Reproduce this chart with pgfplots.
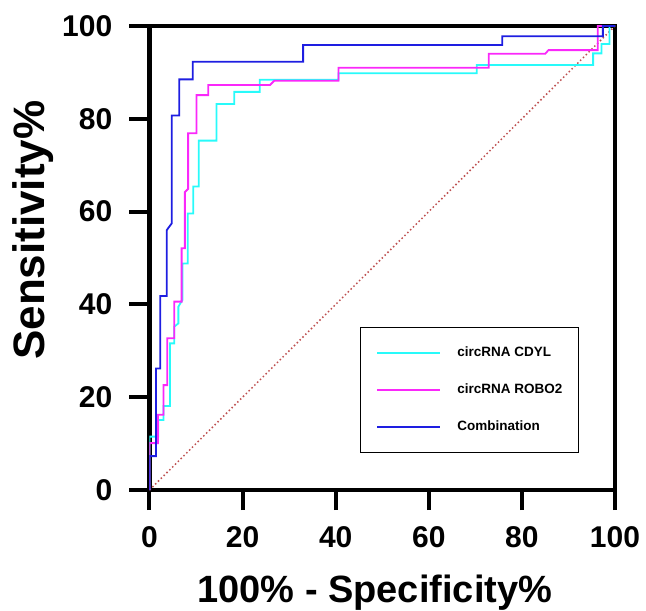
\documentclass[border=0pt]{standalone}
\usepackage{fontspec}
\setmainfont{Liberation Sans}
\usepackage{pgfplots}
\pgfplotsset{compat=1.18}
\usepackage{pgfplotstable}

\definecolor{cdyl}{RGB}{40,250,250}
\definecolor{robo}{RGB}{250,40,250}
\definecolor{comb}{RGB}{30,30,225}
\definecolor{diag}{RGB}{190,80,80}

% ROC curves: 100% - specificity, sensitivity
\pgfplotstableread{
x y
0 0
0 11.5
1.9 11.5
1.9 15.1
3.0 15.1
3.0 18.1
4.4 18.1
4.4 31.6
5.3 31.6
5.3 35.2
6.2 35.9
6.2 39.5
7.1 41.0
7.1 48.8
8.2 48.8
8.2 59.6
9.4 59.6
9.4 65.4
10.6 65.4
10.6 75.3
14.4 75.3
14.4 83.2
18.2 83.2
18.2 85.8
23.7 85.8
23.7 88.4
40.6 88.4
40.6 89.8
70.3 89.8
70.3 91.6
95.3 91.6
95.3 94.1
97.1 94.1
97.1 96.1
98.8 96.1
98.8 100
100 100
}\cdyltab

\pgfplotstableread{
x y
0 0
0 10.1
1.8 10.1
1.8 16.2
3.0 16.2
3.0 22.6
3.8 22.6
3.8 32.7
5.3 32.7
5.3 40.6
6.9 40.6
6.9 52.1
7.6 52.1
7.6 64.2
8.3 64.9
8.3 76.9
10.1 76.9
10.1 85.1
12.6 85.1
12.6 87.3
25.9 87.3
26.8 88.2
40.6 88.2
40.6 91.0
72.9 91.0
72.9 94.0
85.0 94.0
85.7 94.8
96.3 94.8
96.3 100
100 100
}\robotab

\pgfplotstableread{
x y
0 0
0 7.3
1.4 7.3
1.4 26.2
2.3 26.2
2.3 41.8
3.7 41.8
3.7 56.0
4.8 57.5
4.8 80.7
6.4 80.7
6.4 88.5
9.3 88.5
9.3 92.3
33.0 92.3
33.0 95.9
75.8 95.9
75.8 97.8
97.4 97.8
97.4 100
100 100
}\combtab

\begin{document}
\begin{tikzpicture}
\begin{axis}[
    name=ax,
    scale only axis,
    width=465.5pt, height=464pt,
    xmin=0, xmax=100, ymin=0, ymax=100,
    xtick={0,20,...,100}, ytick={0,20,...,100},
    tick pos=left,
    tick align=outside,
    major tick length=20pt,
    every tick/.style={black, line width=4pt},
    axis line style={line width=4.5pt},
    /pgf/number format/assume math mode=true,
    tick label style={font=\bfseries\fontsize{30}{30}\selectfont, inner sep=3pt},
    xticklabel style={yshift=-13pt},
    yticklabel style={xshift=-14pt},
    xlabel={100\% - Specificity\%},
    ylabel={Sensitivity\%},
    xlabel style={at={(axis description cs:0.484,-0.2435)}, anchor=base,
        font=\bfseries\fontsize{38}{38}\selectfont},
    ylabel style={at={(axis description cs:-0.2245,0.56)}, anchor=base, rotate=0,
        font=\bfseries\fontsize{44}{44}\selectfont},
    legend cell align=left,
    legend image code/.code={\path (0pt,0pt) -- (14pt,0pt);
        \draw[#1] (14pt,0pt) -- (63pt,0pt);},
    legend style={at={(axis cs:45.2,35.1)}, anchor=north west,
        draw=black, line width=1.3pt,
        inner xsep=16pt, inner ysep=19pt,
        row sep=24pt, column sep=16pt,
        nodes={inner sep=0pt, text height=10pt, text depth=3pt,
            font=\bfseries\fontsize{13.5}{13.5}\selectfont}},
]
\addplot[diag, line width=1.5pt, dash pattern=on 1.5pt off 2.5pt, forget plot]
    coordinates {(0,0) (100,100)};
\addplot[cdyl, line width=1.8pt] table[x=x,y=y] {\cdyltab};
\addlegendentry{circRNA CDYL}
\addplot[robo, line width=1.8pt] table[x=x,y=y] {\robotab};
\addlegendentry{circRNA ROBO2}
\addplot[comb, line width=1.8pt] table[x=x,y=y] {\combtab};
\addlegendentry{Combination}
\end{axis}
\pgfresetboundingbox
\path ([xshift=-149.5pt,yshift=-121pt]ax.south west) rectangle ([xshift=31pt,yshift=26pt]ax.north east);
\end{tikzpicture}
\end{document}
